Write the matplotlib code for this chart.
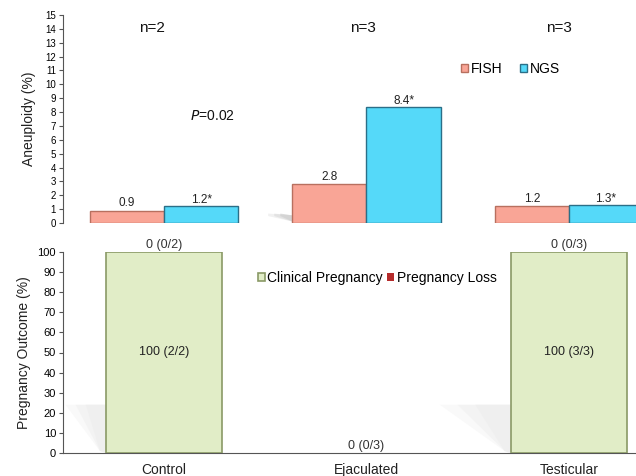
import numpy as np
import matplotlib
matplotlib.use("Agg")
import matplotlib.pyplot as plt
from matplotlib.patches import Polygon

plt.rcParams["font.family"] = ["Liberation Sans", "DejaVu Sans"]

groups = ["Control", "Ejaculated", "Testicular"]
n_labels = ["n=2", "n=3", "n=3"]
fish = [0.9, 2.8, 1.2]
ngs = [1.2, 8.4, 1.3]
fish_labels = ["0.9", "2.8", "1.2"]
ngs_labels = ["1.2*", "8.4*", "1.3*"]
clinical = [100, 0, 100]
loss = [0, 0, 0]
clinical_labels = ["100 (2/2)", "", "100 (3/3)"]
loss_labels = ["0 (0/2)", "0 (0/3)", "0 (0/3)"]

x = np.arange(len(groups))
W, H = 636, 476
fig = plt.figure(figsize=(W / 100, H / 100), dpi=100)

# axes run past the right edge, as in the cropped original
left = 63 / W
width = (670 - 63) / W
ax1 = fig.add_axes([left, (H - 223) / H, width, 208 / H])
ax2 = fig.add_axes([left, (H - 453) / H, width, 201 / H])

# ---- top: aneuploidy
bw = 0.366
# soft shadow behind the ejaculated FISH bar
for k, a in enumerate([0.25, 0.35, 0.5]):
    d = 0.12 - k * 0.03
    ax1.add_patch(Polygon([[1 - bw, 0.1], [1 - bw, 0.55], [1 - bw - d, 0.68], [1 - bw - d, 0.5]],
                          closed=True, facecolor="#c8c8c8", edgecolor="none", alpha=a, zorder=1))
ax1.bar(x - bw / 2, fish, bw, color="#F9A596", edgecolor="#B8705F", linewidth=1, label="FISH", zorder=3)
ax1.bar(x + bw / 2, ngs, bw, color="#55D9F9", edgecolor="#2B6F88", linewidth=1, label="NGS", zorder=3)
n_x = [-0.06, 0.985, 1.95]
for i in x:
    ax1.text(i - bw / 2, fish[i] + 0.12, fish_labels[i], ha="center", va="bottom", fontsize=8.5, color="#222222")
    ax1.text(i + bw / 2, ngs[i] + 0.0, ngs_labels[i], ha="center", va="bottom", fontsize=8.5, color="#222222")
    ax1.text(n_x[i], 14.06, n_labels[i], ha="center", va="center", fontsize=11, color="#111111")
ax1.text(0.13, 7.75, "$\\it{P}$=0.02", ha="left", va="center", fontsize=10, color="#111111")
ax1.set_xlim(-0.5, 2.5)
ax1.set_ylim(0, 15)
ax1.set_yticks(range(0, 16))
ax1.set_xticks([])
for s in ["top", "right", "bottom"]:
    ax1.spines[s].set_visible(False)
ax1.spines["left"].set_color("#555555")
ax1.tick_params(axis="y", labelsize=7, length=3, color="#555555", pad=2)
ax1.set_ylabel("Aneuploidy (%)", fontsize=10, labelpad=7, color="#222222")
ax1.legend(loc="center left", bbox_to_anchor=(0.635, 0.74), ncol=2, frameon=False,
           fontsize=10, handlelength=0.5, handleheight=0.5, handletextpad=0.25, columnspacing=1.2)

# ---- bottom: pregnancy outcome
bw2 = 0.575
shadow_w = [0.2, 0.0, 0.35]
for i in x:
    if clinical[i] > 0:
        bl = i - bw2 / 2
        for k, a in enumerate([0.35, 0.5, 0.7]):
            d = shadow_w[i] * (1 - 0.25 * k)
            ax2.add_patch(Polygon([[bl, 0], [bl, 24], [bl - d, 24], [bl - 0.03, 1]],
                                  closed=True, facecolor="#eeeeee", edgecolor="none", alpha=a, zorder=1))
lw_c = [1.2 if v > 0 else 0 for v in clinical]
lw_l = [1.0 if v > 0 else 0 for v in loss]
ax2.bar(x, clinical, bw2, color="#E1EDC7", edgecolor="#8A9966", linewidth=lw_c, label="Clinical Pregnancy", zorder=3)
ax2.bar(x, loss, bw2, bottom=clinical, color="#B52B2B", edgecolor="#7A1A1A", linewidth=lw_l, label="Pregnancy Loss", zorder=3)
for i in x:
    if clinical_labels[i]:
        ax2.text(i, clinical[i] / 2, clinical_labels[i], ha="center", va="center", fontsize=9, color="#222222")
    ax2.text(i, clinical[i] + loss[i] + 0.5, loss_labels[i], ha="center", va="bottom", fontsize=9, color="#333333")
ax2.set_xlim(-0.5, 2.5)
ax2.set_ylim(0, 100)
ax2.set_yticks(range(0, 101, 10))
ax2.set_xticks(x)
ax2.set_xticklabels(groups, fontsize=10, color="#222222")
ax2.tick_params(axis="x", length=0, pad=7)
ax2.tick_params(axis="y", labelsize=8, length=3, color="#555555", pad=2)
for s in ["top", "right"]:
    ax2.spines[s].set_visible(False)
ax2.spines["left"].set_color("#555555")
ax2.spines["bottom"].set_color("#555555")
ax2.set_ylabel("Pregnancy Outcome (%)", fontsize=10, labelpad=5, color="#222222")
ax2.legend(loc="center left", bbox_to_anchor=(0.3, 0.87), ncol=2, frameon=False,
           fontsize=10, handlelength=0.5, handleheight=0.5, handletextpad=0.2, columnspacing=0.3)

fig.savefig("out.png", dpi=100)
